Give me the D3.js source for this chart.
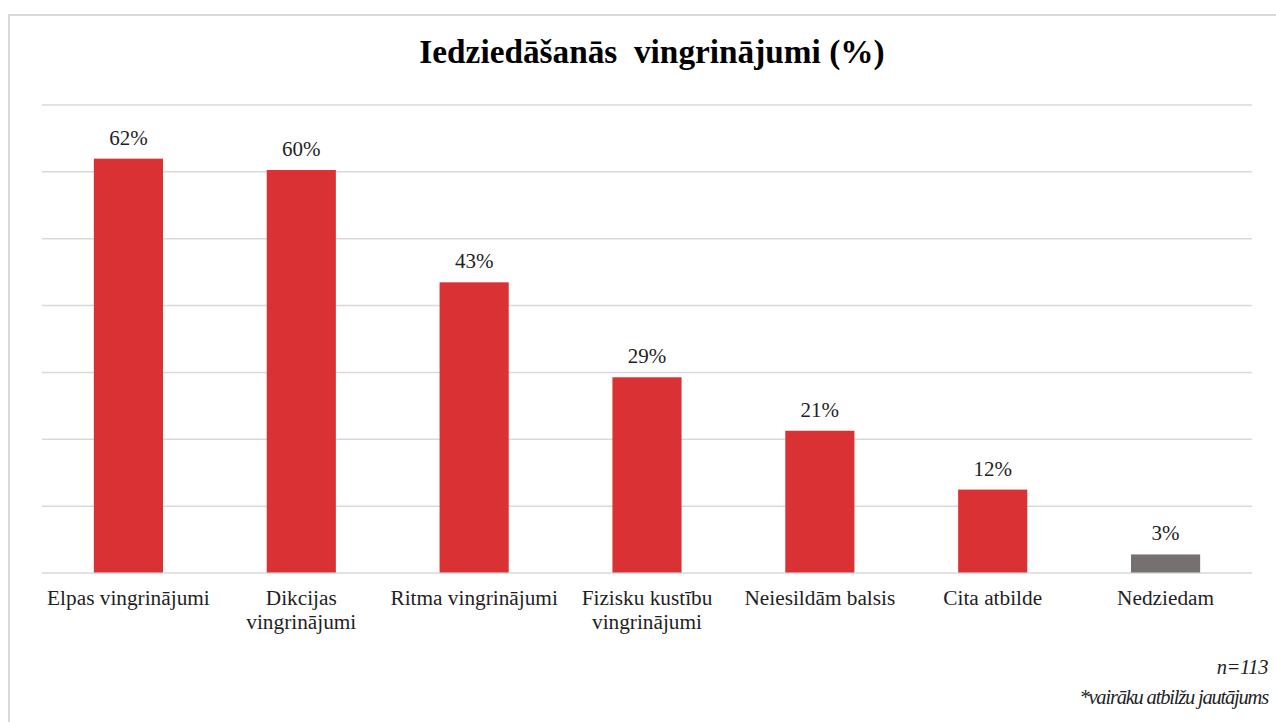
<!DOCTYPE html>
<html>
<head>
<meta charset="utf-8">
<script src="https://cdn.jsdelivr.net/npm/d3@7/dist/d3.min.js"></script>
<style>
    body { margin: 0; background: #fff; }
</style>
</head>
<body>
<div id="chart"></div>
<script>
const categories = [
    "Elpas vingrinājumi",
    "Dikcijas\nvingrinājumi",
    "Ritma vingrinājumi",
    "Fizisku kustību\nvingrinājumi",
    "Neiesildām balsis",
    "Cita atbilde",
    "Nedziedam"
];
const values = [61.9, 60.2, 43.4, 29.2, 21.2, 12.4, 2.7];
const gridTicks = [0, 10, 20, 30, 40, 50, 60, 70];
const otherCategory = "Nedziedam";

const FONT = '"Liberation Serif", "Times New Roman", Times, serif';
const W = 1276, H = 722;
const margin = { top: 104.5, right: 24, bottom: 149.5, left: 42 };

const svg = d3.select('#chart').append('svg')
    .attr('width', W)
    .attr('height', H)
    .style('font-family', FONT);

// chart frame
svg.append('rect')
    .attr('x', 9).attr('y', 15)
    .attr('width', 1300).attr('height', 800)
    .attr('fill', '#fff')
    .attr('stroke', '#d9d9d9')
    .attr('stroke-width', 2);

const width = W - margin.left - margin.right;
const height = H - margin.top - margin.bottom;
const g = svg.append('g').attr('transform', `translate(${margin.left},${margin.top})`);

const x = d3.scaleBand().domain(categories).range([0, width]).paddingInner(0.6).paddingOuter(0.3);
const y = d3.scaleLinear().domain([0, 70]).range([height, 0]);

// gridlines
g.append('g')
    .attr('class', 'grid')
    .call(d3.axisLeft(y).tickValues(gridTicks).tickSize(-width).tickFormat(''))
    .call(s => s.select('.domain').remove())
    .call(s => s.selectAll('line').attr('stroke', '#d9d9d9').attr('stroke-width', 1.5));

const data = categories.map((c, i) => ({ cat: c, value: values[i] }));

g.selectAll('.bar')
    .data(data)
    .enter().append('rect')
    .attr('class', 'bar')
    .attr('x', d => x(d.cat))
    .attr('y', d => y(d.value))
    .attr('width', x.bandwidth())
    .attr('height', d => height - y(d.value))
    .attr('fill', d => d.cat === otherCategory ? '#767171' : '#da3234');

g.selectAll('.val')
    .data(data)
    .enter().append('text')
    .attr('class', 'val')
    .attr('x', d => x(d.cat) + x.bandwidth() / 2)
    .attr('y', d => y(d.value) - 14)
    .attr('text-anchor', 'middle')
    .style('font-family', FONT)
    .style('font-size', '21px')
    .style('fill', '#1f1f1f')
    .text(d => Math.round(d.value) + '%');

// category axis
const xAxis = g.append('g')
    .attr('transform', `translate(0,${height})`)
    .call(d3.axisBottom(x).tickSize(0).tickFormat(''));
xAxis.select('.domain').remove();
xAxis.selectAll('.tick').each(function (d) {
    const t = d3.select(this).append('text')
        .attr('text-anchor', 'middle')
        .attr('y', 32.5)
        .style('font-family', FONT)
        .style('font-size', '21.3px')
        .style('fill', '#1f1f1f');
    d.split('\n').forEach((line, i) => {
        t.append('tspan').attr('x', 0).attr('dy', i === 0 ? 0 : 24).text(line);
    });
});

// title
svg.append('text')
    .attr('x', 652)
    .attr('y', 63)
    .attr('text-anchor', 'middle')
    .style('font-family', FONT)
    .style('font-size', '33.3px')
    .style('font-weight', 'bold')
    .style('white-space', 'pre')
    .style('fill', '#000')
    .text('Iedziedāšanās  vingrinājumi (%)');

// notes
svg.append('text')
    .attr('x', 1268).attr('y', 674)
    .attr('text-anchor', 'end')
    .style('font-family', FONT)
    .style('font-size', '20.5px')
    .style('font-style', 'italic')
    .style('letter-spacing', '-0.4px')
    .style('fill', '#1f1f1f')
    .text('n=113');
svg.append('text')
    .attr('x', 1268).attr('y', 704)
    .attr('text-anchor', 'end')
    .style('font-family', FONT)
    .style('font-size', '20.5px')
    .style('font-style', 'italic')
    .style('letter-spacing', '-1.2px')
    .style('fill', '#1f1f1f')
    .text('*vairāku atbilžu jautājums');
</script>
</body>
</html>
